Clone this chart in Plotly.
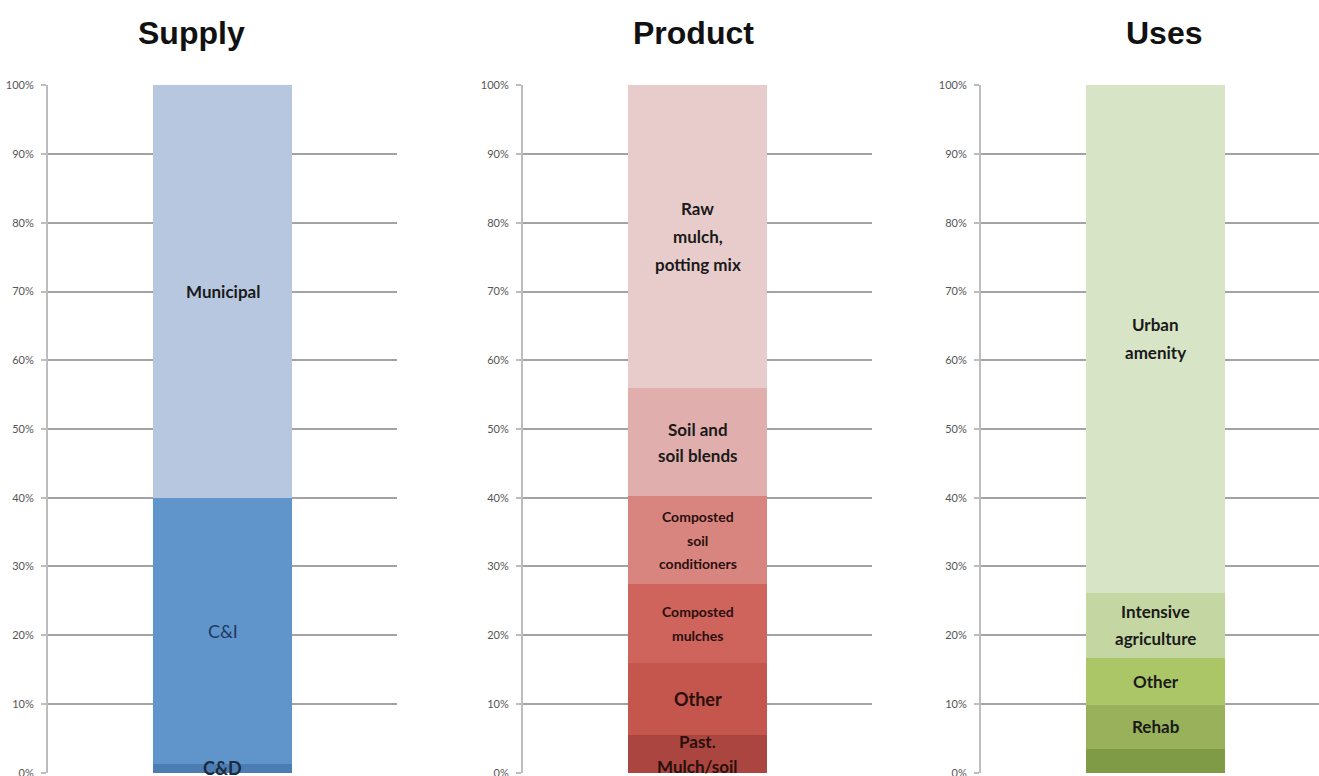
import plotly.graph_objects as go

# ---------------- data ----------------
panel_titles = ["Supply", "Product", "Uses"]

supply_segments = ["C&D", "C&I", "Municipal"]
supply_values = [1.3, 38.7, 60.0]

product_segments = ["Past.\nMulch/soil", "Other", "Composted\nmulches",
                    "Composted\nsoil\nconditioners", "Soil and\nsoil blends",
                    "Raw\nmulch,\npotting mix"]
product_values = [5.5, 10.4, 11.5, 12.8, 15.8, 44.0]

uses_segments = ["", "Rehab", "Other", "Intensive\nagriculture", "Urban\namenity"]
uses_values = [3.5, 6.4, 6.8, 9.5, 73.8]

y_ticks = [0, 10, 20, 30, 40, 50, 60, 70, 80, 90, 100]

# ---------------- styles ----------------
W, H = 1319, 776
supply_colors = ["#4C7DB2", "#5F95CA", "#B8C7E0"]
product_colors = ["#AA463F", "#C4564D", "#CE645C", "#D8857F", "#E0AEAD", "#E8CCCC"]
uses_colors = ["#809B46", "#98B15A", "#ABC667", "#C4D6A1", "#D8E4C6"]

supply_label_style = [dict(size=18, bold=True, color="#1B2A40"),
                      dict(size=18, bold=False, color="#1F3A62"),
                      dict(size=17, bold=True, color="#1A1A1A")]
product_label_style = [dict(size=17, bold=True, color="#2A0F0D", sp=25),
                       dict(size=18, bold=True, color="#2A0F0D", sp=25),
                       dict(size=14, bold=True, color="#2A0F0D", sp=24),
                       dict(size=14, bold=True, color="#2A0F0D", sp=23.5),
                       dict(size=17, bold=True, color="#1A1A1A", sp=26),
                       dict(size=17, bold=True, color="#1A1A1A", sp=28)]
uses_label_style = [dict(size=17, bold=True, color="#1A1A1A"),
                    dict(size=17, bold=True, color="#1A1A1A"),
                    dict(size=17, bold=True, color="#1A1A1A"),
                    dict(size=17, bold=True, color="#1A1A1A", sp=27),
                    dict(size=17, bold=True, color="#1A1A1A", sp=28)]

LABEL_FONT = "Lato, Liberation Sans Narrow, sans-serif"
TICK_FONT = "Lato, Liberation Sans Narrow, sans-serif"

# pixel geometry of each panel: (axis left px, axis right px, title center px)
panels = [
    dict(left=48, right=397, title_x=191),
    dict(left=523, right=872, title_x=693),
    dict(left=981, right=1330, title_x=1164),
]
y_top_px, y_bot_px = 85, 773
px_per_unit = 349.0
pad = 0.05  # tiny range padding so edge gridlines are drawn

fig = go.Figure()
all_data = [(supply_segments, supply_values, supply_colors, supply_label_style),
            (product_segments, product_values, product_colors, product_label_style),
            (uses_segments, uses_values, uses_colors, uses_label_style)]

annotations = []
for i, (segs, vals, cols, styles) in enumerate(all_data):
    p = panels[i]
    xa = "x" if i == 0 else f"x{i+1}"
    ya = "y" if i == 0 else f"y{i+1}"
    right_px = min(p["right"], W)
    x_range = [-0.5, -0.5 + (right_px - p["left"]) / px_per_unit]
    xkey = "xaxis" if i == 0 else f"xaxis{i+1}"
    ykey = "yaxis" if i == 0 else f"yaxis{i+1}"
    fig.layout[xkey] = dict(domain=[p["left"] / W, right_px / W], range=x_range,
                            visible=False, fixedrange=True, anchor=ya, automargin=False)
    fig.layout[ykey] = dict(domain=[(H - y_bot_px) / H, (H - y_top_px) / H],
                            range=[-pad, 100 + pad], tickvals=y_ticks,
                            ticktext=[f"{t}%" for t in y_ticks],
                            showgrid=True, gridcolor="#A3A3A3", gridwidth=1.6,
                            zeroline=False, showline=True, linecolor="#BDBDBD",
                            linewidth=2, ticks="outside", ticklen=5,
                            tickcolor="#BDBDBD", tickwidth=1.5,
                            ticklabelstandoff=5, ticklabeloverflow="allow",
                            automargin=False,
                            tickfont=dict(family=TICK_FONT, size=11, color="#555555"),
                            anchor=xa, fixedrange=True)
    cum = 0.0
    for seg, v, c, st in zip(segs, vals, cols, styles):
        fig.add_trace(go.Bar(x=[0], y=[v], width=0.4, marker=dict(color=c, line=dict(width=0)),
                             xaxis=xa, yaxis=ya, name=seg.replace("\n", " "),
                             hoverinfo="name+y"))
        center = cum + v / 2
        cum += v
        if seg:
            lines = seg.split("\n")
            n = len(lines)
            sp = st.get("sp", 26)
            for k, line in enumerate(lines):
                annotations.append(dict(
                    x=0, y=center, xref=xa, yref=ya, text=line, showarrow=False,
                    xanchor="center", yanchor="middle",
                    yshift=((n - 1) / 2 - k) * sp,
                    font=dict(family=LABEL_FONT, size=st["size"], color=st["color"],
                              weight="bold" if st["bold"] else "normal")))
    annotations.append(dict(
        x=p["title_x"] / W, y=1 - 33 / H, xref="paper", yref="paper",
        text=f"<b>{panel_titles[i]}</b>", showarrow=False,
        xanchor="center", yanchor="middle",
        font=dict(family="Liberation Sans, Arial, sans-serif", size=32, color="#111111")))

fig.update_layout(
    width=W, height=H, margin=dict(l=0, r=0, t=0, b=0, pad=0, autoexpand=False),
    barmode="stack", bargap=0, showlegend=False,
    paper_bgcolor="white", plot_bgcolor="white",
    annotations=annotations,
)

fig.write_html("out.html")
